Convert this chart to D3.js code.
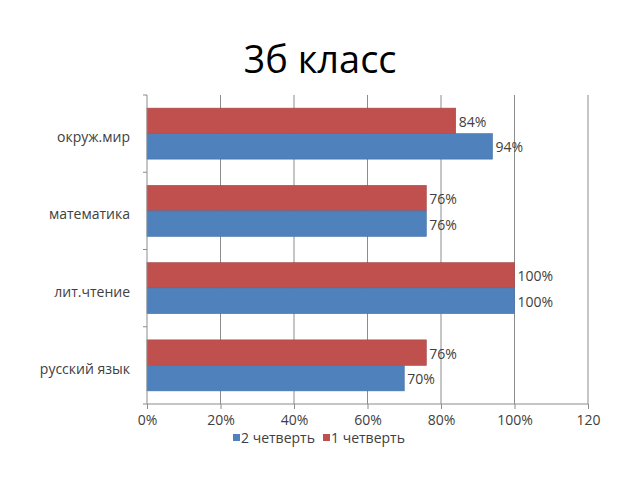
<!DOCTYPE html>
<html>
<head>
<meta charset="utf-8">
<script src="https://cdn.jsdelivr.net/npm/d3@7"></script>
<style>
  body { margin: 0; background: #fff; }
  text { font-family: "Open Sans", Lato, sans-serif; fill: #404040; }
</style>
</head>
<body>
<script>
const categories = ['окруж.мир', 'математика', 'лит.чтение', 'русский язык'];
const series = ['1 четверть', '2 четверть'];
const q1 = [0.84, 0.76, 1.00, 0.76];
const q2 = [0.94, 0.76, 1.00, 0.70];
const xTicks = [0, 0.2, 0.4, 0.6, 0.8, 1.0, 1.2];
const xTickLabels = ['0%', '20%', '40%', '60%', '80%', '100%', '120'];
const legendOrder = ['2 четверть', '1 четверть'];
const colors = { '1 четверть': '#C0504D', '2 четверть': '#4F81BD' };

const width = 640;
const height = 480;
const plotLeft = 147, plotRight = 588, plotTop = 95, plotBottom = 404;
const font = '"Open Sans", Lato, sans-serif';

const svg = d3.select('body').append('svg')
  .attr('width', width)
  .attr('height', height);

svg.append('text')
  .attr('x', 320).attr('y', 73)
  .attr('text-anchor', 'middle')
  .style('font-size', '38px')
  .style('fill', '#000')
  .text('3б класс');

const x = d3.scaleLinear().domain([0, 1.2]).range([plotLeft, plotRight]);
const y = d3.scaleBand().domain(categories).range([plotTop, plotBottom]).paddingInner(0.34).paddingOuter(0.17);
const ySub = d3.scaleBand().domain(series).range([0, y.bandwidth()]);

// gridlines
svg.append('g')
  .selectAll('line')
  .data(xTicks.slice(1))
  .join('line')
  .attr('x1', d => x(d)).attr('x2', d => x(d))
  .attr('y1', plotTop).attr('y2', plotBottom)
  .attr('stroke', '#8c8c8c').attr('stroke-width', 1);

const rows = categories.map((c, i) => ({ c, vals: [
  { s: '1 четверть', v: q1[i] },
  { s: '2 четверть', v: q2[i] }
] }));

const groups = svg.append('g').selectAll('g')
  .data(rows)
  .join('g')
  .attr('transform', d => `translate(0,${y(d.c)})`);

groups.selectAll('rect')
  .data(d => d.vals)
  .join('rect')
  .attr('x', x(0))
  .attr('y', d => ySub(d.s))
  .attr('width', d => x(d.v) - x(0))
  .attr('height', ySub.bandwidth())
  .attr('fill', d => colors[d.s])
  .attr('stroke', d => d3.color(colors[d.s]).darker(0.4))
  .attr('stroke-width', 0.6);

groups.selectAll('text')
  .data(d => d.vals)
  .join('text')
  .attr('x', d => x(d.v) + 3)
  .attr('y', d => ySub(d.s) + ySub.bandwidth() / 2 + 1)
  .attr('dy', '0.35em')
  .style('font-size', '14px')
  .text(d => Math.round(d.v * 100) + '%');

// x axis
const xAxis = d3.axisBottom(x)
  .tickValues(xTicks)
  .tickFormat((d, i) => xTickLabels[i])
  .tickSize(5);

svg.append('g')
  .attr('transform', `translate(0,${plotBottom})`)
  .call(xAxis)
  .call(g => g.select('.domain').attr('stroke', '#8c8c8c').attr('d', `M${plotLeft},0H${plotRight}`))
  .call(g => g.selectAll('.tick line').attr('stroke', '#8c8c8c'))
  .call(g => g.selectAll('.tick text')
    .attr('dy', '0.9em')
    .style('font-size', '14px')
    .style('font-family', font)
    .style('fill', '#404040'));

// y axis
svg.append('g')
  .attr('transform', `translate(${plotLeft},0)`)
  .call(d3.axisLeft(y).tickSize(0).tickPadding(17))
  .call(g => g.select('.domain').attr('stroke', '#8c8c8c').attr('d', `M0,${plotTop}V${plotBottom}`))
  .call(g => g.selectAll('.tick text')
    .attr('dy', '0.6em')
    .style('font-size', '14px')
    .style('font-family', font)
    .style('fill', '#404040'));

// category boundary ticks
const step = (plotBottom - plotTop) / categories.length;
svg.append('g')
  .selectAll('line')
  .data(d3.range(categories.length + 1))
  .join('line')
  .attr('x1', plotLeft - 4).attr('x2', plotLeft)
  .attr('y1', i => plotTop + i * step).attr('y2', i => plotTop + i * step)
  .attr('stroke', '#8c8c8c');

// legend
const legend = svg.append('g').attr('transform', 'translate(233,438)');
const items = legend.selectAll('g')
  .data(legendOrder)
  .join('g')
  .attr('transform', (d, i) => `translate(${i * 90},0)`);
items.append('rect')
  .attr('x', 0).attr('y', -4)
  .attr('width', 7).attr('height', 7)
  .attr('fill', d => colors[d]);
items.append('text')
  .attr('x', 8).attr('y', 0)
  .attr('dy', '0.35em')
  .style('font-size', '14px')
  .text(d => d);
</script>
</body>
</html>
